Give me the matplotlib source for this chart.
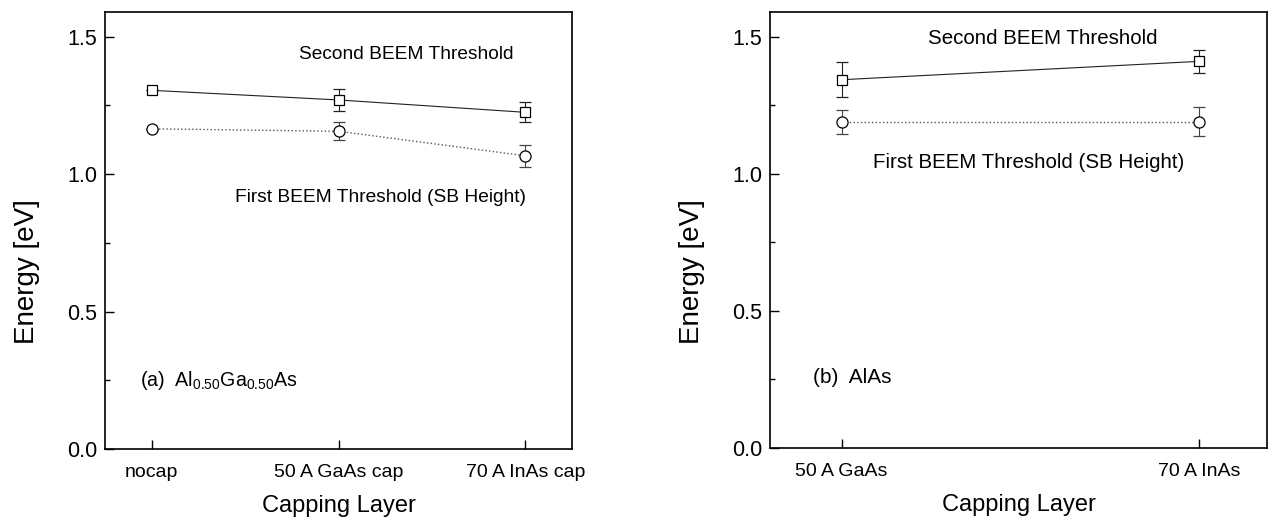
import numpy as np
import matplotlib
matplotlib.use("Agg")
import matplotlib.pyplot as plt
from matplotlib.ticker import MultipleLocator, FormatStrFormatter

plt.rcParams['font.family'] = ['Liberation Sans', 'DejaVu Sans']
plt.rcParams['mathtext.fontset'] = 'custom'
plt.rcParams['mathtext.rm'] = 'Liberation Sans'
plt.rcParams['mathtext.it'] = 'Liberation Sans'

# (a) Al0.50Ga0.50As
caps_a = ['nocap', '50 A GaAs cap', '70 A InAs cap']
second_a = [1.305, 1.27, 1.225]
second_a_err = [0.0, 0.04, 0.037]
first_a = [1.165, 1.156, 1.067]
first_a_err = [0.0, 0.033, 0.04]

# (b) AlAs
caps_b = ['50 A GaAs', '70 A InAs']
second_b = [1.343, 1.41]
second_b_err = [0.063, 0.043]
first_b = [1.19, 1.19]
first_b_err = [0.044, 0.053]

fig = plt.figure(figsize=(12.68, 5.27), dpi=100)
ax1 = fig.add_axes([105/1268, 1 - 449/527, 467/1268, 437/527])
ax2 = fig.add_axes([770/1268, 1 - 448/527, 497/1268, 436/527])


def draw(ax, caps, s, s_err, f, f_err):
    x = np.arange(len(caps))
    ax.errorbar(x, s, yerr=s_err, fmt='-', marker='s', ms=7, mfc='white',
                mec='black', mew=0.9, color='#222222', lw=0.8,
                ecolor='#222222', elinewidth=0.8, capsize=4, capthick=0.8)
    ax.errorbar(x, f, yerr=f_err, fmt=':', marker='o', ms=8, mfc='white',
                mec='black', mew=0.9, color='#555555', lw=1.0,
                ecolor='#444444', elinewidth=0.8, capsize=4, capthick=0.8)
    ax.set_xticks(x)
    ax.set_xticklabels(caps, fontsize=14)
    ax.set_ylim(0, 1.59)
    ax.yaxis.set_major_locator(MultipleLocator(0.5))
    ax.yaxis.set_minor_locator(MultipleLocator(0.25))
    ax.yaxis.set_major_formatter(FormatStrFormatter('%.1f'))
    ax.tick_params(axis='both', which='major', direction='in', length=6.5,
                   width=1, top=False, right=False)
    ax.tick_params(axis='y', which='minor', direction='in', length=3.5,
                   width=1, right=False)
    ax.tick_params(axis='x', pad=11, labelsize=14)
    ax.tick_params(axis='y', pad=5.5, labelsize=15.5)
    for sp in ax.spines.values():
        sp.set_linewidth(1.2)
    ax.set_xlabel('Capping Layer', fontsize=17, labelpad=10)
    ax.set_ylabel('Energy [eV]', fontsize=20)


draw(ax1, caps_a, second_a, second_a_err, first_a, first_a_err)
ax1.set_xlim(-0.25, 2.25)
ax1.yaxis.set_label_coords(-0.140, 0.405)
ax1.text(0.79, 1.435, 'Second BEEM Threshold', fontsize=13.8, va='center')
ax1.text(0.445, 0.915, 'First BEEM Threshold (SB Height)', fontsize=13.8, va='center')
ax1.text(-0.06, 0.25, r'(a)  Al$_{\mathregular{0.50}}$Ga$_{\mathregular{0.50}}$As',
         fontsize=14.1, va='center')

draw(ax2, caps_b, second_b, second_b_err, first_b, first_b_err)
ax2.set_xlim(-0.2, 1.19)
ax2.yaxis.set_label_coords(-0.131, 0.405)
ax2.text(0.243, 1.495, 'Second BEEM Threshold', fontsize=14.8, va='center')
ax2.text(0.087, 1.04, 'First BEEM Threshold (SB Height)', fontsize=14.8, va='center')
ax2.text(-0.08, 0.257, '(b)  AlAs', fontsize=15, va='center')

fig.savefig('out.png', dpi=100)
